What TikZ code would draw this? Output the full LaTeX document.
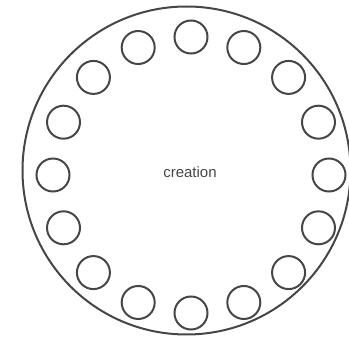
\documentclass[tikz,border=0pt]{standalone}
\usepackage{fontspec}
\setsansfont{Liberation Sans}
\usetikzlibrary{positioning}
\definecolor{ringgray}{RGB}{70,70,70}

\begin{document}
\begin{tikzpicture}[
        x=1pt,y=-1pt,
        outer/.style={draw=ringgray,line width=2pt,circle,minimum size=328pt,inner sep=0pt},
        seat/.style={draw=ringgray,line width=2pt,circle,minimum size=33pt,inner sep=0pt},
        label/.style={font=\sffamily\fontsize{15}{17}\selectfont,text=ringgray}
    ]
        \useasboundingbox (0,0) rectangle (349,339);

        % Outer ring
        \node[outer] (ring) at (186.5,170.5) {};

        % Centre
        \node[label] (creation) at (190,172) {creation};

        % Seats round the ring
        \foreach \i in {0,...,15}
            \node[seat] (seat\i) at ([shift={(90+\i*22.5:138)}]191,175) {};
    \end{tikzpicture}
\end{document}
